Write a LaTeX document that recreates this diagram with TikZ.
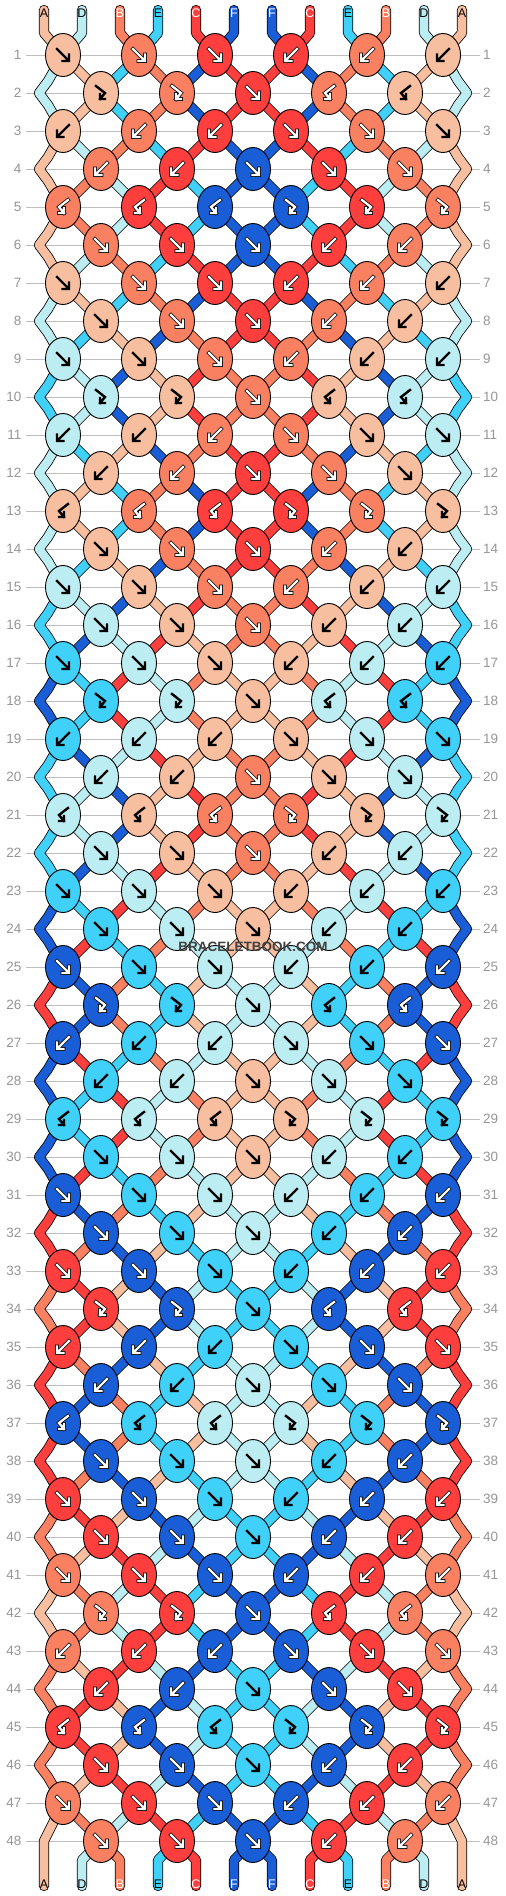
\documentclass[tikz,border=0pt]{standalone}
\usepackage{fontspec}
\setmainfont{Liberation Sans}
\usetikzlibrary{shapes.geometric}
\definecolor{cA}{RGB}{248,190,160}
\definecolor{cD}{RGB}{188,237,242}
\definecolor{cB}{RGB}{250,128,98}
\definecolor{cE}{RGB}{64,209,250}
\definecolor{cC}{RGB}{255,62,62}
\definecolor{cF}{RGB}{26,94,215}
\definecolor{gridgrey}{RGB}{190,190,190}
\definecolor{numgrey}{RGB}{150,150,150}
\definecolor{wmgrey}{RGB}{64,64,64}
\tikzset{
  strand/.style={line width=0.8pt, double=#1, double distance=8.6pt, line join=round, line cap=round},
  knot/.style={ellipse, draw=black, line width=0.9pt, fill=#1, minimum width=35pt, minimum height=43pt, inner sep=0pt},
  gridline/.style={draw=gridgrey, line width=1pt},
  rownum/.style={text=numgrey, font=\fontsize{13.5}{14}\selectfont, inner sep=0pt},
  lbl/.style={font=\fontsize{12.5}{13}\selectfont, inner sep=0pt},
  glyphblack/.style={line width=2.4pt, line cap=rect, line join=miter, draw=black},
  glyphout/.style={line width=3.8pt, line cap=rect, line join=miter, draw=black},
  glyphin/.style={line width=2.3pt, line cap=rect, line join=miter, draw=white},
  watermark/.style={text=wmgrey, font=\bfseries\fontsize{13.5}{14}\selectfont, inner sep=0pt}
}
\expandafter\def\csname ty0\endcsname{f}
\expandafter\def\csname ty1\endcsname{F}
\expandafter\def\csname ty2\endcsname{b}
\expandafter\def\csname ty3\endcsname{b}
\expandafter\def\csname ty4\endcsname{B}
\expandafter\def\csname ty5\endcsname{f}
\expandafter\def\csname ty6\endcsname{f}
\expandafter\def\csname ty7\endcsname{f}
\def\mirf{b}\def\mirb{f}\def\mirF{B}\def\mirB{F}
\def\tcolA{black}\def\tcolD{black}\def\tcolE{black}
\def\tcolB{white}\def\tcolC{white}\def\tcolF{white}
\newcommand\drawglyph[2]{%
  \if#2f\draw[#1] (-6,-6) -- (5,5) (6,-0.5) -- (6,6) -- (-0.5,6);\fi
  \if#2b\draw[#1] (6,-6) -- (-5,5) (-6,-0.5) -- (-6,6) -- (0.5,6);\fi
  \if#2F\draw[#1] (-5,-7) -- (4,0) -- (-1,6) (-1,1) -- (-1,6) -- (4,6);\fi
  \if#2B\draw[#1] (5,-7) -- (-4,0) -- (1,6) (1,1) -- (1,6) -- (-4,6);\fi
}
% simulate one knot: place its centre coordinate, draw the two incoming strands, store colour/type
\newcommand\doknot{%
  \edef\lstr{\csname p\ia\endcsname}%
  \edef\rstr{\csname p\ja\endcsname}%
  \if\ktype f\edef\kc{\lstr}\def\swp{1}\fi
  \if\ktype b\edef\kc{\rstr}\def\swp{1}\fi
  \if\ktype F\edef\kc{\lstr}\def\swp{0}\fi
  \if\ktype B\edef\kc{\rstr}\def\swp{0}\fi
  \coordinate (c-\rr-\kk) at (\xk,\yr);
  \edef\tmp{\noexpand\draw[strand=c\lstr] \csname q\ia\endcsname -- (c-\rr-\kk);}\tmp
  \edef\tmp{\noexpand\draw[strand=c\rstr] \csname q\ja\endcsname -- (c-\rr-\kk);}\tmp
  \expandafter\xdef\csname q\ia\endcsname{(c-\rr-\kk)}%
  \expandafter\xdef\csname q\ja\endcsname{(c-\rr-\kk)}%
  \ifnum\swp=1
    \expandafter\xdef\csname p\ia\endcsname{\rstr}%
    \expandafter\xdef\csname p\ja\endcsname{\lstr}%
  \fi
  \expandafter\xdef\csname kc\rr-\kk\endcsname{\kc}%
  \expandafter\xdef\csname kt\rr-\kk\endcsname{\ktype}%
}
% draw one knot from stored data
\newcommand\showknot{%
  \edef\kc{\csname kc\rr-\kk\endcsname}%
  \edef\ktype{\csname kt\rr-\kk\endcsname}%
  \edef\kcol{c\kc}%
  \node[knot=\kcol] (k-\rr-\kk) at (c-\rr-\kk) {};
  \def\gw{0}\if\kc B\def\gw{1}\fi\if\kc C\def\gw{1}\fi\if\kc F\def\gw{1}\fi
  \begin{scope}[shift={(k-\rr-\kk.center)}]
    \ifnum\gw=1
      \drawglyph{glyphout}{\ktype}\drawglyph{glyphin}{\ktype}%
    \else
      \drawglyph{glyphblack}{\ktype}%
    \fi
  \end{scope}
}
\begin{document}
\begin{tikzpicture}[x=1pt,y=-1pt]
\useasboundingbox (0,0) rectangle (506,1896);
\fill[white] (0,0) rectangle (506,1896);
% grid lines and row numbers
\foreach \rr in {1,...,48} {
  \pgfmathtruncatemacro\yr{55+38*(\rr-1)}
  \coordinate (gl\rr) at (26,\yr);
  \coordinate (gr\rr) at (480,\yr);
  \draw[gridline] (gl\rr) -- (gr\rr);
  \node[rownum, anchor=east] (nl\rr) at (21.5,\yr) {\rr};
  \node[rownum, anchor=west] (nr\rr) at (483,\yr) {\rr};
}
% top of strings
\foreach \lettr [count=\ia] in {A,D,B,E,C,F,F,C,E,B,D,A} {
  \pgfmathtruncatemacro\xs{253+19*(2*\ia-13)}
  \expandafter\xdef\csname p\ia\endcsname{\lettr}
  \coordinate (t\ia) at (\xs,10);
  \coordinate (b\ia) at (\xs,33);
  \expandafter\xdef\csname q\ia\endcsname{(t\ia) -- (b\ia)}
}
% rows: strands
\foreach \rr in {1,...,48} {
  \pgfmathtruncatemacro\yr{55+38*(\rr-1)}
  \pgfmathtruncatemacro\mrow{mod(\rr-1,8)}
  \pgfmathtruncatemacro\isodd{mod(\rr,2)}
  \edef\tleft{\csname ty\mrow\endcsname}
  \edef\tright{\csname mir\tleft\endcsname}
  \ifnum\isodd=1
    \foreach \kk in {1,...,6} {
      \pgfmathtruncatemacro\ia{2*\kk-1}
      \pgfmathtruncatemacro\ja{2*\kk}
      \pgfmathtruncatemacro\xk{253+38*(2*\kk-7)}
      \ifnum\kk<4 \edef\ktype{\tleft}\else\edef\ktype{\tright}\fi
      \doknot
    }
  \else
    \ifnum\rr<48
      \coordinate (eLa\rr) at (48,\yr-12);
      \coordinate (eL\rr) at (39,\yr);
      \coordinate (eLb\rr) at (48,\yr+12);
      \coordinate (eRa\rr) at (458,\yr-12);
      \coordinate (eR\rr) at (467,\yr);
      \coordinate (eRb\rr) at (458,\yr+12);
      \expandafter\xdef\csname q1\endcsname{\csname q1\endcsname -- (eLa\rr) -- (eL\rr) -- (eLb\rr)}
      \expandafter\xdef\csname q12\endcsname{\csname q12\endcsname -- (eRa\rr) -- (eR\rr) -- (eRb\rr)}
    \fi
    \foreach \kk in {1,...,5} {
      \pgfmathtruncatemacro\ia{2*\kk}
      \pgfmathtruncatemacro\ja{2*\kk+1}
      \pgfmathtruncatemacro\xk{253+38*(2*\kk-6)}
      \ifnum\kk<3 \edef\ktype{\tleft}\else\ifnum\kk=3 \def\ktype{f}\else\edef\ktype{\tright}\fi\fi
      \doknot
    }
  \fi
}
% bottom of strings
\foreach \ia in {1,...,12} {
  \pgfmathtruncatemacro\xs{253+19*(2*\ia-13)}
  \ifnum\ia=1 \def\by{1841}\else\ifnum\ia=12 \def\by{1841}\else\def\by{1860}\fi\fi
  \coordinate (bb\ia) at (\xs,\by);
  \coordinate (be\ia) at (\xs,1886);
  \edef\lstr{\csname p\ia\endcsname}
  \edef\tmp{\noexpand\draw[strand=c\lstr] \csname q\ia\endcsname -- (bb\ia) -- (be\ia);}\tmp
  \edef\tc{\csname tcol\lstr\endcsname}
  \node[lbl, text=\tc] (lb\ia) at (\xs,1884) {\lstr};
}
% top labels
\foreach \lettr [count=\ia] in {A,D,B,E,C,F,F,C,E,B,D,A} {
  \pgfmathtruncatemacro\xs{253+19*(2*\ia-13)}
  \edef\tc{\csname tcol\lettr\endcsname}
  \node[lbl, text=\tc] (lt\ia) at (\xs,13) {\lettr};
}
% knots
\foreach \rr in {1,...,48} {
  \pgfmathtruncatemacro\isodd{mod(\rr,2)}
  \ifnum\isodd=1 \def\nk{6}\else\def\nk{5}\fi
  \foreach \kk in {1,...,\nk} {
    \showknot
  }
}
\node[watermark] (wm) at (253,947) {BRACELETBOOK.COM};
\end{tikzpicture}
\end{document}
